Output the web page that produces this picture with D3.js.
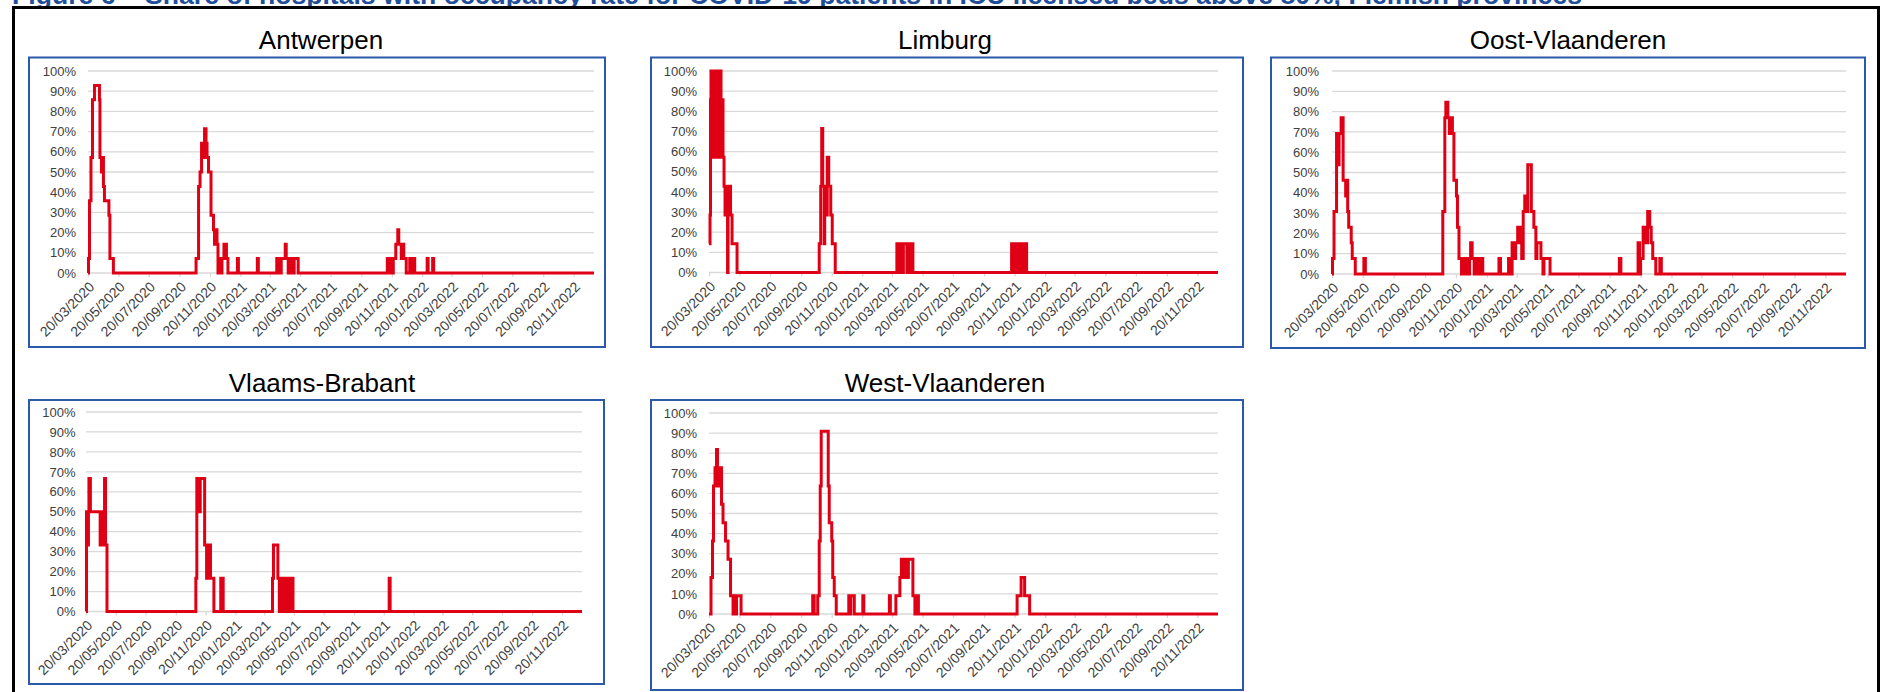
<!DOCTYPE html>
<html>
<head>
<meta charset="utf-8">
<script src="https://cdn.jsdelivr.net/npm/d3@7"></script>
<style>
  html, body { margin: 0; padding: 0; background: #fff; }
  svg { display: block; }
</style>
</head>
<body>
<svg id="chart" width="1885" height="692"></svg>
<script>
// ---- data -------------------------------------------------------------
// Number of hospitals per province above the 80% ICU occupancy threshold.
// Each entry is a change point: [date, hospitals above 80%]; the value holds until the next entry.
const provinces = ["Antwerpen", "Limburg", "Oost-Vlaanderen", "Vlaams-Brabant", "West-Vlaanderen"];
const hospitalCounts = [14, 7, 13, 6, 11];

const antwerpen = [
  ["2020-03-20",0],["2020-03-21",1],["2020-03-23",5],["2020-03-26",8],["2020-03-29",12],
  ["2020-04-02",13],["2020-04-12",12],["2020-04-13",8],["2020-04-16",7],["2020-04-18",8],
  ["2020-04-20",6],["2020-04-22",5],["2020-05-01",4],["2020-05-03",1],["2020-05-10",0],
  ["2020-10-23",1],["2020-10-28",6],["2020-10-31",7],["2020-11-03",9],["2020-11-06",8],
  ["2020-11-09",10],["2020-11-12",9],["2020-11-14",8],["2020-11-17",7],["2020-11-22",4],
  ["2020-11-27",3],["2020-11-29",2],["2020-12-01",3],["2020-12-04",2],["2020-12-06",0],
  ["2020-12-09",1],["2020-12-12",0],["2020-12-14",1],["2020-12-18",2],["2020-12-23",1],
  ["2020-12-26",0],["2021-01-14",1],["2021-01-16",0],["2021-02-23",1],["2021-02-25",0],
  ["2021-04-03",1],["2021-04-06",0],["2021-04-07",1],["2021-04-11",0],["2021-04-12",1],
  ["2021-04-20",2],["2021-04-22",1],["2021-04-26",0],["2021-04-27",1],["2021-05-01",0],
  ["2021-05-02",1],["2021-05-07",0],["2021-05-08",1],["2021-05-16",0],
  ["2021-11-11",1],["2021-11-15",0],["2021-11-16",1],["2021-11-22",0],["2021-11-23",1],
  ["2021-11-28",2],["2021-12-02",3],["2021-12-04",2],["2021-12-09",1],["2021-12-11",2],
  ["2021-12-14",1],["2021-12-19",0],["2021-12-26",1],["2021-12-30",0],["2022-01-01",1],
  ["2022-01-05",0],["2022-01-30",1],["2022-02-01",0],["2022-02-10",1],["2022-02-12",0],
  ["2022-12-31",0]
];

const limburg = [
  ["2020-03-20",1],["2020-03-22",2],["2020-03-23",6],["2020-03-24",7],["2020-03-26",4],
  ["2020-03-28",7],["2020-03-30",4],["2020-04-01",6],["2020-04-03",7],["2020-04-05",4],
  ["2020-04-07",6],["2020-04-09",4],["2020-04-11",7],["2020-04-13",4],["2020-04-15",6],
  ["2020-04-17",4],["2020-04-19",3],["2020-04-21",2],["2020-04-23",3],["2020-04-26",0],
  ["2020-04-27",3],["2020-05-02",2],["2020-05-05",1],["2020-05-15",0],
  ["2020-10-26",1],["2020-10-29",3],["2020-10-31",5],["2020-11-02",3],["2020-11-05",1],
  ["2020-11-06",3],["2020-11-09",2],["2020-11-11",4],["2020-11-14",3],["2020-11-18",2],
  ["2020-11-21",1],["2020-11-27",0],
  ["2021-03-30",1],["2021-04-02",0],["2021-04-03",1],["2021-04-07",0],["2021-04-08",1],
  ["2021-04-11",0],["2021-04-12",1],["2021-04-19",0],["2021-04-23",1],["2021-04-25",0],
  ["2021-04-26",1],["2021-05-01",0],
  ["2021-11-14",1],["2021-11-17",0],["2021-11-18",1],["2021-11-22",0],["2021-11-23",1],
  ["2021-11-27",0],["2021-11-28",1],["2021-12-02",0],["2021-12-03",1],["2021-12-08",0],
  ["2021-12-09",1],["2021-12-14",0],
  ["2022-12-31",0]
];

const oostVlaanderen = [
  ["2020-03-20",0],["2020-03-21",1],["2020-03-24",4],["2020-03-29",9],["2020-04-01",7],
  ["2020-04-03",9],["2020-04-07",10],["2020-04-11",6],["2020-04-16",5],["2020-04-17",6],
  ["2020-04-20",4],["2020-04-22",3],["2020-04-27",2],["2020-04-29",1],["2020-05-05",0],
  ["2020-05-22",1],["2020-05-25",0],
  ["2020-10-25",4],["2020-10-29",10],["2020-10-31",11],["2020-11-04",10],["2020-11-07",9],
  ["2020-11-09",10],["2020-11-13",9],["2020-11-16",6],["2020-11-21",5],["2020-11-23",3],
  ["2020-11-26",1],["2020-12-01",0],["2020-12-05",1],["2020-12-08",0],["2020-12-11",1],
  ["2020-12-14",0],["2020-12-17",1],["2020-12-19",2],["2020-12-22",1],["2020-12-26",0],
  ["2020-12-29",1],["2021-01-01",0],["2021-01-04",1],["2021-01-07",0],["2021-01-09",1],
  ["2021-01-12",0],["2021-02-13",1],["2021-02-16",0],["2021-03-04",1],["2021-03-07",0],
  ["2021-03-11",2],["2021-03-15",1],["2021-03-18",2],["2021-03-22",3],["2021-03-27",2],
  ["2021-03-30",1],["2021-04-02",4],["2021-04-05",5],["2021-04-08",4],["2021-04-11",7],
  ["2021-04-18",4],["2021-04-23",3],["2021-04-27",1],["2021-04-29",2],["2021-05-07",1],
  ["2021-05-11",0],["2021-05-13",1],["2021-05-25",0],
  ["2021-10-09",1],["2021-10-12",0],["2021-11-15",2],["2021-11-18",0],["2021-11-20",1],
  ["2021-11-25",3],["2021-11-30",2],["2021-12-04",4],["2021-12-08",3],["2021-12-11",2],
  ["2021-12-14",1],["2021-12-20",0],["2021-12-28",1],["2021-12-31",0],
  ["2022-12-31",0]
];

const vlaamsBrabant = [
  ["2020-03-20",0],["2020-03-21",3],["2020-03-23",2],["2020-03-25",3],["2020-03-26",4],
  ["2020-03-29",3],["2020-04-18",2],["2020-04-20",3],["2020-04-21",2],["2020-04-25",3],
  ["2020-04-27",4],["2020-04-29",2],["2020-05-02",0],
  ["2020-10-31",1],["2020-11-02",4],["2020-11-08",3],["2020-11-09",4],["2020-11-18",2],
  ["2020-11-22",1],["2020-11-24",2],["2020-11-30",1],["2020-12-07",0],
  ["2020-12-21",1],["2020-12-26",0],
  ["2021-04-06",1],["2021-04-08",2],["2021-04-17",1],["2021-04-20",0],["2021-04-21",1],
  ["2021-04-25",0],["2021-04-26",1],["2021-04-30",0],["2021-05-01",1],["2021-05-06",0],
  ["2021-05-07",1],["2021-05-11",0],["2021-05-12",1],["2021-05-18",0],
  ["2021-12-01",1],["2021-12-03",0],
  ["2022-12-31",0]
];

const westVlaanderen = [
  ["2020-03-20",0],["2020-03-24",2],["2020-03-27",4],["2020-03-29",7],["2020-04-01",8],
  ["2020-04-04",9],["2020-04-06",7],["2020-04-10",8],["2020-04-14",6],["2020-04-17",5],
  ["2020-04-22",4],["2020-04-27",3],["2020-05-02",1],["2020-05-07",0],["2020-05-08",1],
  ["2020-05-11",0],["2020-05-14",1],["2020-05-23",0],
  ["2020-10-13",1],["2020-10-16",0],["2020-10-23",1],["2020-10-26",4],["2020-10-28",7],
  ["2020-10-30",10],["2020-11-13",7],["2020-11-15",5],["2020-11-20",4],["2020-11-22",2],
  ["2020-11-25",1],["2020-11-29",0],["2020-12-24",1],["2020-12-27",0],["2020-12-28",1],
  ["2021-01-04",0],["2021-01-21",1],["2021-01-23",0],
  ["2021-03-15",1],["2021-03-17",0],["2021-03-28",1],["2021-04-05",2],["2021-04-08",3],
  ["2021-04-11",2],["2021-04-14",3],["2021-04-20",2],["2021-04-22",3],["2021-05-01",1],
  ["2021-05-05",0],["2021-05-06",1],["2021-05-12",0],
  ["2021-11-25",1],["2021-12-03",2],["2021-12-10",1],["2021-12-20",0],
  ["2022-12-31",0]
];

const series = [antwerpen, limburg, oostVlaanderen, vlaamsBrabant, westVlaanderen];

// x axis: every second month from 20/03/2020
const xTickDates = [
  "2020-03-20","2020-05-20","2020-07-20","2020-09-20","2020-11-20",
  "2021-01-20","2021-03-20","2021-05-20","2021-07-20","2021-09-20","2021-11-20",
  "2022-01-20","2022-03-20","2022-05-20","2022-07-20","2022-09-20","2022-11-20"
];
const xDomain = ["2020-03-20", "2022-12-31"];
const yTicks = [0, 0.1, 0.2, 0.3, 0.4, 0.5, 0.6, 0.7, 0.8, 0.9, 1];

const figureTitle = "Figure 6 \u2013 Share of hospitals with occupancy rate for COVID-19 patients in ICU licensed beds above 80%, Flemish provinces";

// ---- layout -------------------------------------------------------------
// box: framed chart area, plot: [left, right, top(100%), bottom(0%)], title: [cx, baseline], labelX: y-label right edge
const layout = [
  { box: [29, 57.5, 605, 347],  plot: [88, 594, 71, 273],    title: [321, 49],    labelX: 76 },
  { box: [651, 57.5, 1243, 347], plot: [709, 1218, 71, 272.5], title: [945, 49],   labelX: 697 },
  { box: [1271, 57.5, 1865, 348], plot: [1332, 1846, 71, 274], title: [1568, 49],  labelX: 1319 },
  { box: [29, 400, 604, 684],   plot: [86, 582, 412, 611.5],  title: [322, 391.5], labelX: 75.5 },
  { box: [651, 400, 1243, 690], plot: [709, 1218, 413, 614],  title: [945, 391.5], labelX: 697 }
];

const FONT = "'Liberation Sans', Arial, Helvetica, sans-serif";
const parse = d3.timeParse("%Y-%m-%d");
const fmtDate = d3.timeFormat("%d/%m/%Y");
const fmtPct = d3.format(".0%");

const svg = d3.select("#chart");
svg.append("rect").attr("width", 1885).attr("height", 692).attr("fill", "#fff");

// figure caption, running off the top edge
svg.append("text")
  .attr("x", 12).attr("y", 4)
  .attr("font-family", FONT).attr("font-weight", "bold").attr("font-size", 26)
  .attr("fill", "#1F4E9A")
  .attr("textLength", 1570).attr("lengthAdjust", "spacingAndGlyphs")
  .text(figureTitle);

// outer black frame
svg.append("rect")
  .attr("x", 13.5).attr("y", 7.5).attr("width", 1865).attr("height", 710)
  .attr("fill", "none").attr("stroke", "#000").attr("stroke-width", 3);

provinces.forEach((name, i) => {
  const L = layout[i];
  const [pl, pr, pt, pb] = L.plot;
  const g = svg.append("g");

  const x = d3.scaleTime().domain(xDomain.map(parse)).range([pl, pr]);
  const y = d3.scaleLinear().domain([0, 1]).range([pb, pt]);

  // panel title
  g.append("text")
    .attr("x", L.title[0]).attr("y", L.title[1])
    .attr("text-anchor", "middle")
    .attr("font-family", FONT).attr("font-size", 26).attr("fill", "#000")
    .text(name);

  // blue chart frame
  g.append("rect")
    .attr("x", L.box[0]).attr("y", L.box[1])
    .attr("width", L.box[2] - L.box[0]).attr("height", L.box[3] - L.box[1])
    .attr("fill", "#fff").attr("stroke", "#2B5BA8").attr("stroke-width", 2);

  // horizontal gridlines
  g.append("g").selectAll("line").data(yTicks).join("line")
    .attr("x1", pl).attr("x2", pr)
    .attr("y1", d => y(d)).attr("y2", d => y(d))
    .attr("stroke", "#d9d9d9").attr("stroke-width", 1.3);

  // y axis labels
  const yAxis = d3.axisLeft(y).tickValues(yTicks).tickFormat(fmtPct).tickSize(0).tickPadding(0);
  const ya = g.append("g").attr("transform", `translate(${L.labelX},0)`).call(yAxis);
  ya.select(".domain").remove();
  ya.selectAll("text")
    .attr("font-family", FONT).attr("font-size", 13).attr("fill", "#404040");

  // x axis: small ticks and rotated date labels
  const xAxis = d3.axisBottom(x).tickValues(xTickDates.map(parse)).tickFormat(fmtDate)
    .tickSize(4).tickPadding(0);
  const xa = g.append("g").attr("transform", `translate(0,${pb})`).call(xAxis);
  xa.select(".domain").remove();
  xa.selectAll(".tick line").attr("stroke", "#d9d9d9").attr("stroke-width", 1.3);
  xa.selectAll("text")
    .attr("font-family", FONT).attr("font-size", 14).attr("fill", "#404040")
    .attr("text-anchor", "end")
    .attr("dy", "0")
    .attr("transform", "translate(4,12) rotate(-45)");

  // share of hospitals above 80%
  const total = hospitalCounts[i];
  const pts = series[i].map(([d, n]) => ({ date: parse(d), share: n / total }));
  const line = d3.line()
    .x(d => x(d.date))
    .y(d => y(d.share))
    .curve(d3.curveStepAfter);
  g.append("path")
    .datum(pts)
    .attr("d", line)
    .attr("fill", "none")
    .attr("stroke", "#E00016")
    .attr("stroke-width", 3)
    .attr("stroke-linejoin", "miter");
});
</script>
</body>
</html>
